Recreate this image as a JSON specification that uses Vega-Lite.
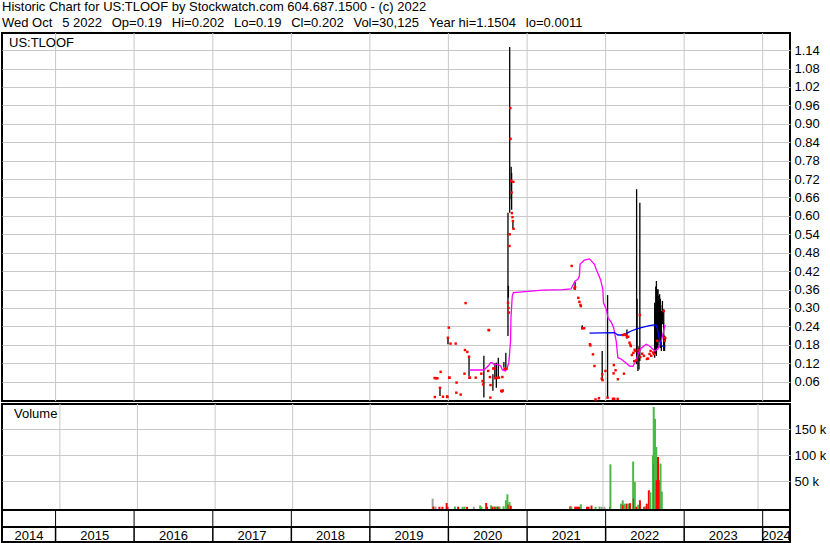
{
  "$schema": "https://vega.github.io/schema/vega-lite/v6.json",
  "background": "white",
  "padding": {"left": 1, "top": 0, "right": 0, "bottom": 0},
  "bounds": "flush",
  "title": {
    "text": [
      "Historic Chart for US:TLOOF by Stockwatch.com 604.687.1500 - (c) 2022",
      "Wed Oct \u00a0\u20095 2022 \u00a0\u2009Op=0.19 \u00a0\u2009Hi=0.202 \u00a0\u2009Lo=0.19 \u00a0\u2009Cl=0.202 \u00a0\u2009Vol=30,125 \u00a0\u2009Year hi=1.1504 \u00a0\u2009lo=0.0011"
    ],
    "anchor": "start",
    "frame": "bounds",
    "font": "Liberation Sans",
    "fontSize": 13,
    "fontWeight": "normal",
    "color": "black",
    "lineHeight": 16,
    "offset": 4,
    "dy": 2,
    "dx": 1
  },
  "resolve": {"scale": {"color": "independent"}},
  "config": {
    "font": "Liberation Sans",
    "view": {"stroke": "black", "strokeWidth": 2},
    "axis": {
      "labelFont": "Liberation Sans",
      "labelFontSize": 13,
      "labelColor": "black",
      "labelOverlap": false,
      "gridColor": "#c8c8c8",
      "gridWidth": 1,
      "gridOpacity": 1,
      "domain": false,
      "ticks": false,
      "title": null
    }
  },
  "datasets": {
    "trades": [
      {"d": "2019-10-29", "c": 0.072},
      {"d": "2019-10-30", "c": 0.010},
      {"d": "2019-11-04", "c": 0.071},
      {"d": "2019-11-11", "c": 0.071},
      {"d": "2019-11-23", "lo": 0.013, "hi": 0.040, "c": 0.040},
      {"d": "2019-11-26", "c": 0.092},
      {"d": "2019-12-07", "c": 0.011},
      {"d": "2019-12-26", "c": 0.012},
      {"d": "2019-12-27", "c": 0.010},
      {"d": "2019-12-30", "lo": 0.182, "hi": 0.203, "c": 0.203},
      {"d": "2020-01-03", "c": 0.236},
      {"d": "2020-01-05", "c": 0.073},
      {"d": "2020-01-06", "c": 0.073},
      {"d": "2020-01-11", "c": 0.184},
      {"d": "2020-02-04", "c": 0.184},
      {"d": "2020-02-07", "c": 0.024},
      {"d": "2020-02-08", "c": 0.057},
      {"d": "2020-02-27", "c": 0.018},
      {"d": "2020-03-16", "c": 0.086},
      {"d": "2020-03-18", "c": 0.163},
      {"d": "2020-03-21", "c": 0.316},
      {"d": "2020-03-29", "c": 0.157},
      {"d": "2020-04-06", "lo": 0.078, "hi": 0.144, "c": 0.141},
      {"d": "2020-04-08", "c": 0.073},
      {"d": "2020-04-10", "c": 0.073},
      {"d": "2020-05-07", "c": 0.073},
      {"d": "2020-06-02", "c": 0.086},
      {"d": "2020-06-08", "c": 0.062},
      {"d": "2020-06-10", "c": 0.051},
      {"d": "2020-06-14", "lo": 0.008, "hi": 0.144},
      {"d": "2020-07-04", "c": 0.095},
      {"d": "2020-07-06", "c": 0.228},
      {"d": "2020-07-08", "c": 0.228},
      {"d": "2020-07-12", "c": 0.075},
      {"d": "2020-07-14", "c": 0.008},
      {"d": "2020-07-15", "c": 0.049},
      {"d": "2020-07-26", "lo": 0.030, "hi": 0.084},
      {"d": "2020-07-28", "c": 0.103},
      {"d": "2020-07-31", "c": 0.103},
      {"d": "2020-08-04", "lo": 0.068, "hi": 0.120},
      {"d": "2020-08-07", "c": 0.072},
      {"d": "2020-08-11", "lo": 0.040, "hi": 0.122},
      {"d": "2020-08-15", "c": 0.072},
      {"d": "2020-08-20", "lo": 0.073, "hi": 0.138},
      {"d": "2020-08-23", "c": 0.073},
      {"d": "2020-09-03", "c": 0.030},
      {"d": "2020-09-06", "c": 0.028},
      {"d": "2020-09-08", "c": 0.075},
      {"d": "2020-09-10", "c": 0.031},
      {"d": "2020-09-15", "lo": 0.106, "hi": 0.124},
      {"d": "2020-09-18", "c": 0.102},
      {"d": "2020-09-24", "lo": 0.100, "hi": 0.154},
      {"d": "2020-09-27", "c": 0.102},
      {"d": "2020-10-04", "lo": 0.209, "hi": 0.610, "c": 0.317},
      {"d": "2020-10-06", "lo": 0.334, "hi": 0.372, "c": 0.300},
      {"d": "2020-10-08", "c": 0.285},
      {"d": "2020-10-11", "c": 0.502},
      {"d": "2020-10-12", "lo": 0.610, "hi": 1.150, "c": 0.540},
      {"d": "2020-10-15", "c": 0.951},
      {"d": "2020-10-16", "c": 0.851},
      {"d": "2020-10-19", "lo": 0.654, "hi": 0.760, "c": 0.714},
      {"d": "2020-10-21", "lo": 0.620, "hi": 0.740, "c": 0.676},
      {"d": "2020-10-22", "c": 0.609},
      {"d": "2020-10-25", "c": 0.596},
      {"d": "2020-10-27", "lo": 0.558, "hi": 0.583, "c": 0.583},
      {"d": "2020-10-29", "c": 0.711},
      {"d": "2020-10-30", "c": 0.558},
      {"d": "2021-07-27", "c": 0.437},
      {"d": "2021-08-09", "c": 0.364},
      {"d": "2021-08-12", "lo": 0.359, "hi": 0.385, "c": 0.368},
      {"d": "2021-08-27", "c": 0.333},
      {"d": "2021-09-01", "c": 0.320},
      {"d": "2021-09-06", "c": 0.310},
      {"d": "2021-09-08", "c": 0.306},
      {"d": "2021-09-14", "lo": 0.230, "hi": 0.244, "c": 0.234},
      {"d": "2021-09-23", "c": 0.234},
      {"d": "2021-10-20", "c": 0.182},
      {"d": "2021-10-22", "c": 0.178},
      {"d": "2021-11-03", "c": 0.149},
      {"d": "2021-11-10", "c": 0.111},
      {"d": "2021-11-15", "c": 0.002},
      {"d": "2021-12-01", "c": 0.006},
      {"d": "2021-12-14", "c": 0.070},
      {"d": "2021-12-16", "lo": 0.064, "hi": 0.160, "c": 0.084},
      {"d": "2021-12-18", "c": 0.065},
      {"d": "2021-12-31", "c": 0.095},
      {"d": "2022-01-10", "lo": 0.006, "hi": 0.342, "c": 0.008},
      {"d": "2022-02-04", "c": 0.004},
      {"d": "2022-02-07", "c": 0.087},
      {"d": "2022-02-08", "c": 0.114},
      {"d": "2022-02-10", "c": 0.004},
      {"d": "2022-02-16", "c": 0.097},
      {"d": "2022-02-26", "c": 0.004},
      {"d": "2022-02-27", "c": 0.068},
      {"d": "2022-03-23", "c": 0.212},
      {"d": "2022-03-27", "c": 0.086},
      {"d": "2022-03-30", "c": 0.214},
      {"d": "2022-04-04", "c": 0.212},
      {"d": "2022-04-10", "lo": 0.200, "hi": 0.230, "c": 0.206},
      {"d": "2022-04-16", "c": 0.206},
      {"d": "2022-04-22", "c": 0.187},
      {"d": "2022-04-26", "c": 0.180},
      {"d": "2022-04-28", "c": 0.176},
      {"d": "2022-05-03", "c": 0.147},
      {"d": "2022-05-10", "c": 0.154},
      {"d": "2022-05-14", "c": 0.127},
      {"d": "2022-05-16", "c": 0.164},
      {"d": "2022-05-19", "c": 0.160},
      {"d": "2022-05-25", "lo": 0.117, "hi": 0.687, "c": 0.130},
      {"d": "2022-05-27", "lo": 0.176, "hi": 0.330},
      {"d": "2022-05-31", "lo": 0.095, "hi": 0.176},
      {"d": "2022-06-03", "c": 0.163},
      {"d": "2022-06-05", "lo": 0.100, "hi": 0.170},
      {"d": "2022-06-09", "lo": 0.127, "hi": 0.643, "c": 0.277},
      {"d": "2022-06-11", "c": 0.140},
      {"d": "2022-06-20", "c": 0.151},
      {"d": "2022-06-28", "c": 0.144},
      {"d": "2022-07-12", "c": 0.134},
      {"d": "2022-07-17", "c": 0.135},
      {"d": "2022-07-24", "c": 0.150},
      {"d": "2022-07-29", "c": 0.160},
      {"d": "2022-08-01", "c": 0.144},
      {"d": "2022-08-10", "c": 0.155},
      {"d": "2022-08-14", "c": 0.150},
      {"d": "2022-08-17", "lo": 0.138, "hi": 0.317},
      {"d": "2022-08-19", "lo": 0.150, "hi": 0.300},
      {"d": "2022-08-22", "lo": 0.160, "hi": 0.370},
      {"d": "2022-08-25", "lo": 0.144, "hi": 0.388},
      {"d": "2022-08-29", "c": 0.193},
      {"d": "2022-08-31", "lo": 0.170, "hi": 0.360},
      {"d": "2022-09-01", "lo": 0.171, "hi": 0.361},
      {"d": "2022-09-05", "lo": 0.190, "hi": 0.340},
      {"d": "2022-09-07", "lo": 0.200, "hi": 0.320},
      {"d": "2022-09-09", "lo": 0.203, "hi": 0.345},
      {"d": "2022-09-12", "lo": 0.170, "hi": 0.330},
      {"d": "2022-09-14", "lo": 0.180, "hi": 0.310},
      {"d": "2022-09-17", "lo": 0.160, "hi": 0.290},
      {"d": "2022-09-22", "lo": 0.247, "hi": 0.323},
      {"d": "2022-09-28", "lo": 0.160, "hi": 0.296, "c": 0.290},
      {"d": "2022-10-02", "lo": 0.160, "hi": 0.210, "c": 0.203},
      {"d": "2022-10-03", "c": 0.193},
      {"d": "2022-10-05", "lo": 0.190, "hi": 0.202, "c": 0.202}
    ],
    "averages": [
      {"d": "2020-04-06", "v": 0.098, "s": "short"},
      {"d": "2020-06-14", "v": 0.098, "s": "short"},
      {"d": "2020-07-04", "v": 0.111, "s": "short"},
      {"d": "2020-07-15", "v": 0.122, "s": "short"},
      {"d": "2020-07-22", "v": 0.122, "s": "short"},
      {"d": "2020-08-03", "v": 0.114, "s": "short"},
      {"d": "2020-08-15", "v": 0.117, "s": "short"},
      {"d": "2020-08-31", "v": 0.111, "s": "short"},
      {"d": "2020-09-08", "v": 0.098, "s": "short"},
      {"d": "2020-09-23", "v": 0.095, "s": "short"},
      {"d": "2020-10-01", "v": 0.106, "s": "short"},
      {"d": "2020-10-08", "v": 0.122, "s": "short"},
      {"d": "2020-10-16", "v": 0.193, "s": "short"},
      {"d": "2020-10-18", "v": 0.270, "s": "short"},
      {"d": "2020-10-24", "v": 0.339, "s": "short"},
      {"d": "2020-10-29", "v": 0.350, "s": "short"},
      {"d": "2021-03-14", "v": 0.358, "s": "short"},
      {"d": "2021-06-15", "v": 0.360, "s": "short"},
      {"d": "2021-07-24", "v": 0.362, "s": "short"},
      {"d": "2021-08-12", "v": 0.388, "s": "short"},
      {"d": "2021-08-24", "v": 0.393, "s": "short"},
      {"d": "2021-09-01", "v": 0.404, "s": "short"},
      {"d": "2021-09-04", "v": 0.442, "s": "short"},
      {"d": "2021-09-24", "v": 0.456, "s": "short"},
      {"d": "2021-10-18", "v": 0.460, "s": "short"},
      {"d": "2021-11-10", "v": 0.442, "s": "short"},
      {"d": "2021-11-18", "v": 0.426, "s": "short"},
      {"d": "2021-12-08", "v": 0.393, "s": "short"},
      {"d": "2021-12-19", "v": 0.361, "s": "short"},
      {"d": "2021-12-22", "v": 0.317, "s": "short"},
      {"d": "2022-01-04", "v": 0.296, "s": "short"},
      {"d": "2022-01-12", "v": 0.268, "s": "short"},
      {"d": "2022-01-27", "v": 0.254, "s": "short"},
      {"d": "2022-02-07", "v": 0.236, "s": "short"},
      {"d": "2022-02-19", "v": 0.193, "s": "short"},
      {"d": "2022-02-27", "v": 0.138, "s": "short"},
      {"d": "2022-03-15", "v": 0.133, "s": "short"},
      {"d": "2022-04-07", "v": 0.120, "s": "short"},
      {"d": "2022-04-22", "v": 0.111, "s": "short"},
      {"d": "2022-05-08", "v": 0.110, "s": "short"},
      {"d": "2022-05-23", "v": 0.130, "s": "short"},
      {"d": "2022-06-03", "v": 0.154, "s": "short"},
      {"d": "2022-06-16", "v": 0.170, "s": "short"},
      {"d": "2022-07-09", "v": 0.182, "s": "short"},
      {"d": "2022-07-24", "v": 0.176, "s": "short"},
      {"d": "2022-08-17", "v": 0.160, "s": "short"},
      {"d": "2022-09-01", "v": 0.166, "s": "short"},
      {"d": "2022-09-17", "v": 0.193, "s": "short"},
      {"d": "2022-10-02", "v": 0.239, "s": "short"},
      {"d": "2022-10-05", "v": 0.245, "s": "short"},
      {"d": "2021-10-18", "v": 0.218, "s": "long"},
      {"d": "2022-02-11", "v": 0.220, "s": "long"},
      {"d": "2022-02-27", "v": 0.212, "s": "long"},
      {"d": "2022-03-23", "v": 0.212, "s": "long"},
      {"d": "2022-04-15", "v": 0.220, "s": "long"},
      {"d": "2022-04-30", "v": 0.225, "s": "long"},
      {"d": "2022-05-23", "v": 0.231, "s": "long"},
      {"d": "2022-06-16", "v": 0.236, "s": "long"},
      {"d": "2022-07-09", "v": 0.240, "s": "long"},
      {"d": "2022-08-10", "v": 0.245, "s": "long"},
      {"d": "2022-08-25", "v": 0.243, "s": "long"},
      {"d": "2022-09-01", "v": 0.225, "s": "long"},
      {"d": "2022-09-09", "v": 0.193, "s": "long"},
      {"d": "2022-09-20", "v": 0.176, "s": "long"},
      {"d": "2022-10-05", "v": 0.173, "s": "long"}
    ],
    "volume": [
      {"d": "2019-10-22", "v": 16700, "dir": "flat"},
      {"d": "2019-10-26", "v": 1500, "dir": "down"},
      {"d": "2019-11-04", "v": 1500, "dir": "flat"},
      {"d": "2019-11-23", "v": 1000, "dir": "down"},
      {"d": "2019-12-07", "v": 1000, "dir": "down"},
      {"d": "2019-12-27", "v": 8300, "dir": "down"},
      {"d": "2019-12-31", "v": 1200, "dir": "down"},
      {"d": "2020-02-04", "v": 1500, "dir": "up"},
      {"d": "2020-02-19", "v": 1200, "dir": "down"},
      {"d": "2020-03-11", "v": 1000, "dir": "up"},
      {"d": "2020-03-20", "v": 1200, "dir": "up"},
      {"d": "2020-04-01", "v": 1000, "dir": "down"},
      {"d": "2020-05-03", "v": 1000, "dir": "flat"},
      {"d": "2020-06-02", "v": 3800, "dir": "up"},
      {"d": "2020-06-08", "v": 1000, "dir": "up"},
      {"d": "2020-06-30", "v": 8300, "dir": "down"},
      {"d": "2020-07-04", "v": 1000, "dir": "down"},
      {"d": "2020-07-23", "v": 3800, "dir": "up"},
      {"d": "2020-07-30", "v": 1200, "dir": "down"},
      {"d": "2020-08-06", "v": 1500, "dir": "up"},
      {"d": "2020-08-12", "v": 1000, "dir": "down"},
      {"d": "2020-08-18", "v": 1500, "dir": "up"},
      {"d": "2020-08-25", "v": 1200, "dir": "down"},
      {"d": "2020-09-01", "v": 1500, "dir": "up"},
      {"d": "2020-09-20", "v": 2000, "dir": "up"},
      {"d": "2020-10-01", "v": 13500, "dir": "up"},
      {"d": "2020-10-08", "v": 25000, "dir": "up"},
      {"d": "2020-10-13", "v": 5000, "dir": "down"},
      {"d": "2020-10-18", "v": 10000, "dir": "up"},
      {"d": "2020-10-24", "v": 3000, "dir": "down"},
      {"d": "2021-07-31", "v": 2000, "dir": "down"},
      {"d": "2021-08-05", "v": 1200, "dir": "up"},
      {"d": "2021-08-23", "v": 1200, "dir": "down"},
      {"d": "2021-09-01", "v": 1200, "dir": "down"},
      {"d": "2021-09-10", "v": 1200, "dir": "down"},
      {"d": "2021-09-19", "v": 5800, "dir": "up"},
      {"d": "2021-10-18", "v": 1000, "dir": "down"},
      {"d": "2021-10-25", "v": 1000, "dir": "down"},
      {"d": "2021-11-08", "v": 3400, "dir": "down"},
      {"d": "2021-11-27", "v": 800, "dir": "up"},
      {"d": "2021-12-16", "v": 1500, "dir": "up"},
      {"d": "2021-12-27", "v": 800, "dir": "flat"},
      {"d": "2022-01-08", "v": 800, "dir": "flat"},
      {"d": "2022-02-03", "v": 800, "dir": "down"},
      {"d": "2022-02-05", "v": 82700, "dir": "up"},
      {"d": "2022-03-27", "v": 7000, "dir": "up"},
      {"d": "2022-04-04", "v": 13500, "dir": "up"},
      {"d": "2022-04-06", "v": 4000, "dir": "down"},
      {"d": "2022-04-12", "v": 7000, "dir": "up"},
      {"d": "2022-04-22", "v": 7000, "dir": "down"},
      {"d": "2022-04-30", "v": 7000, "dir": "up"},
      {"d": "2022-05-08", "v": 8000, "dir": "down"},
      {"d": "2022-05-23", "v": 88000, "dir": "up"},
      {"d": "2022-05-26", "v": 17000, "dir": "down"},
      {"d": "2022-05-31", "v": 48700, "dir": "up"},
      {"d": "2022-06-08", "v": 1000, "dir": "down"},
      {"d": "2022-06-16", "v": 5000, "dir": "up"},
      {"d": "2022-06-24", "v": 13500, "dir": "down"},
      {"d": "2022-07-14", "v": 1000, "dir": "down"},
      {"d": "2022-07-20", "v": 1500, "dir": "up"},
      {"d": "2022-07-26", "v": 7000, "dir": "down"},
      {"d": "2022-08-05", "v": 32700, "dir": "down"},
      {"d": "2022-08-12", "v": 29000, "dir": "up"},
      {"d": "2022-08-24", "v": 100000, "dir": "up"},
      {"d": "2022-08-28", "v": 193000, "dir": "up"},
      {"d": "2022-09-01", "v": 84000, "dir": "down"},
      {"d": "2022-09-03", "v": 170000, "dir": "up"},
      {"d": "2022-09-09", "v": 116000, "dir": "up"},
      {"d": "2022-09-11", "v": 52000, "dir": "down"},
      {"d": "2022-09-17", "v": 96700, "dir": "down"},
      {"d": "2022-09-22", "v": 52000, "dir": "down"},
      {"d": "2022-09-25", "v": 20000, "dir": "down"},
      {"d": "2022-09-29", "v": 84000, "dir": "up"},
      {"d": "2022-10-05", "v": 30125, "dir": "up"}
    ],
    "boundaries": [
      {"d": "2015-01-01"}, {"d": "2016-01-01"}, {"d": "2017-01-01"}, {"d": "2018-01-01"},
      {"d": "2019-01-01"}, {"d": "2020-01-01"}, {"d": "2021-01-01"}, {"d": "2022-01-01"},
      {"d": "2023-01-01"}, {"d": "2024-01-01"}
    ],
    "years": [
      {"label": "2014", "d": "2014-08-30"},
      {"label": "2015", "d": "2015-07-02"},
      {"label": "2016", "d": "2016-07-02"},
      {"label": "2017", "d": "2017-07-02"},
      {"label": "2018", "d": "2018-07-02"},
      {"label": "2019", "d": "2019-07-02"},
      {"label": "2020", "d": "2020-07-02"},
      {"label": "2021", "d": "2021-07-02"},
      {"label": "2022", "d": "2022-07-02"},
      {"label": "2023", "d": "2023-07-02"},
      {"label": "2024", "d": "2024-03-04"}
    ]
  },
  "spacing": 3,
  "vconcat": [
    {
      "width": 788,
      "height": 368,
      "resolve": {"scale": {"color": "independent"}},
      "layer": [
        {
          "data": {"name": "boundaries"},
          "mark": {"type": "rule", "color": "#c8c8c8", "strokeWidth": 1},
          "encoding": {
            "x": {
              "field": "d", "type": "temporal",
              "scale": {"domain": [{"year": 2014, "month": 4, "date": 27}, {"year": 2024, "month": 5, "date": 7}]},
              "axis": null
            }
          }
        },
        {
          "data": {"name": "trades"},
          "mark": {"type": "rule", "color": "black", "strokeWidth": 1.3},
          "encoding": {
            "x": {"field": "d", "type": "temporal"},
            "y": {
              "field": "lo", "type": "quantitative",
              "scale": {"domain": [-0.003, 1.1958], "nice": false, "zero": false},
              "axis": {
                "orient": "right",
                "values": [0.06, 0.12, 0.18, 0.24, 0.30, 0.36, 0.42, 0.48, 0.54, 0.60, 0.66, 0.72, 0.78, 0.84, 0.90, 0.96, 1.02, 1.08, 1.14],
                "tickCount": 50,
                "format": ".2f",
                "grid": true,
                "labelOverlap": false,
                "labelBound": false,
                "labelPadding": 4
              }
            },
            "y2": {"field": "hi"}
          }
        },
        {
          "data": {"name": "averages"},
          "mark": {"type": "line", "strokeWidth": 1.3},
          "encoding": {
            "x": {"field": "d", "type": "temporal"},
            "y": {"field": "v", "type": "quantitative"},
            "color": {
              "field": "s", "type": "nominal",
              "scale": {"domain": ["short", "long"], "range": ["#ff00ff", "#0000ff"]},
              "legend": null
            }
          }
        },
        {
          "data": {"name": "trades"},
          "mark": {"type": "point", "shape": "square", "filled": true, "size": 6, "color": "#ff0000", "opacity": 1},
          "encoding": {
            "x": {"field": "d", "type": "temporal"},
            "y": {"field": "c", "type": "quantitative"}
          }
        },
        {
          "data": {"values": [{"label": "US:TLOOF"}]},
          "mark": {"type": "text", "align": "left", "baseline": "alphabetic", "dx": 7, "dy": 14, "fontSize": 13, "color": "black"},
          "encoding": {
            "x": {"datum": {"year": 2014, "month": 4, "date": 27}, "type": "temporal"},
            "y": {"datum": 1.1958, "type": "quantitative"},
            "text": {"field": "label"}
          }
        }
      ]
    },
    {
      "spacing": 0,
      "bounds": "flush",
      "resolve": {"scale": {"color": "independent"}},
      "vconcat": [
        {
          "width": 788,
          "height": 106,
          "layer": [
            {
              "data": {"name": "boundaries"},
              "mark": {"type": "rule", "color": "#c8c8c8", "strokeWidth": 1},
              "encoding": {
                "x": {
                  "field": "d", "type": "temporal",
                  "scale": {"domain": [{"year": 2014, "month": 4, "date": 27}, {"year": 2024, "month": 5, "date": 7}]},
                  "axis": null
                }
              }
            },
            {
              "data": {"name": "volume"},
              "mark": {"type": "bar", "size": 2},
              "encoding": {
                "x": {"field": "d", "type": "temporal"},
                "y": {
                  "field": "v", "type": "quantitative",
                  "scale": {"domain": [-5200, 198650], "nice": false, "zero": false},
                  "axis": {
                    "orient": "right",
                    "values": [50000, 100000, 150000],
                    "tickCount": 20,
                    "labelExpr": "datum.value / 1000 + ' k'",
                    "grid": true,
                    "labelOverlap": false,
                    "labelPadding": 4
                  }
                },
                "y2": {"datum": -5200},
                "color": {
                  "field": "dir", "type": "nominal",
                  "scale": {"domain": ["up", "down", "flat"], "range": ["#4cb848", "#ff0000", "#a0a0a0"]},
                  "legend": null
                }
              }
            },
            {
              "data": {"values": [{"label": "Volume"}]},
              "mark": {"type": "text", "align": "left", "baseline": "alphabetic", "dx": 7, "dy": 14, "fontSize": 13, "color": "black"},
              "encoding": {
                "x": {"datum": {"year": 2014, "month": 4, "date": 27}, "type": "temporal"},
                "y": {"datum": 198650, "type": "quantitative"},
                "text": {"field": "label"}
              }
            }
          ]
        },
        {
          "width": 788,
          "height": 17,
          "data": {"name": "boundaries"},
          "mark": {"type": "rule", "color": "black", "strokeWidth": 1},
          "encoding": {
            "x": {
              "field": "d", "type": "temporal",
              "scale": {"domain": [{"year": 2014, "month": 4, "date": 27}, {"year": 2024, "month": 5, "date": 7}]},
              "axis": null
            }
          }
        },
        {
          "width": 788,
          "height": 15,
          "layer": [
            {
              "data": {"name": "boundaries"},
              "mark": {"type": "rule", "color": "black", "strokeWidth": 1.5},
              "encoding": {
                "x": {
                  "field": "d", "type": "temporal",
                  "scale": {"domain": [{"year": 2014, "month": 4, "date": 27}, {"year": 2024, "month": 5, "date": 7}]},
                  "axis": null
                }
              }
            },
            {
              "data": {"name": "years"},
              "mark": {"type": "text", "fontSize": 13, "color": "black", "align": "center", "baseline": "middle", "dy": 1},
              "encoding": {
                "x": {"field": "d", "type": "temporal"},
                "text": {"field": "label"}
              }
            }
          ]
        }
      ]
    }
  ]
}
